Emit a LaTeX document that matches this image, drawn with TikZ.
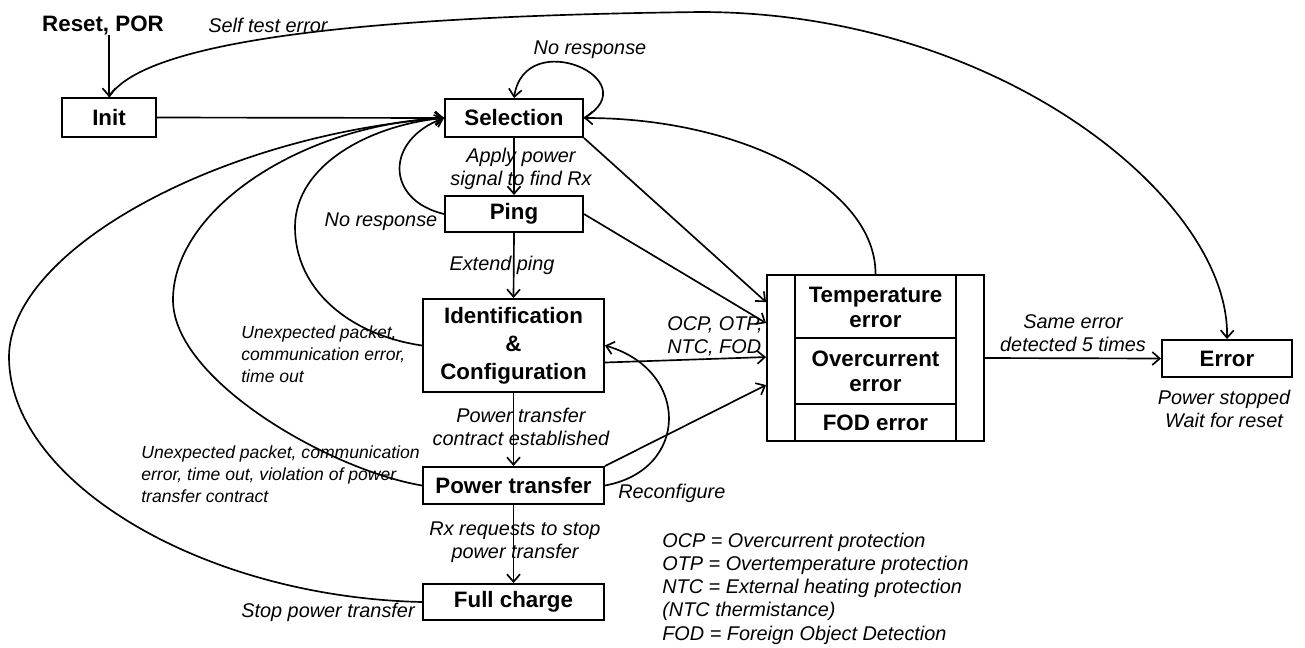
\documentclass[tikz,border=0pt]{standalone}
\usepackage{fontspec}
\setmainfont{Liberation Sans}
\usetikzlibrary{arrows.meta,calc}

\tikzset{
  statebox/.style={draw, line width=1.1pt, inner sep=0pt, align=center,
    font=\bfseries\fontsize{12.7}{15.5}\selectfont},
  boldtxt/.style={inner sep=0pt, align=center,
    font=\bfseries\fontsize{12.7}{14.2}\selectfont},
  lbl/.style={inner sep=0pt, align=center,
    font=\itshape\fontsize{11.3}{13.2}\selectfont},
  smalllbl/.style={inner sep=0pt, align=left,
    font=\itshape\fontsize{10}{12.4}\selectfont},
  conn/.style={line width=0.95pt, -{Straight Barb[length=1.5mm,width=2.6mm,line width=0.95pt]}},
  plain/.style={line width=0.95pt},
}

\begin{document}
\begin{tikzpicture}[x=0.02cm, y=-0.02cm]
\useasboundingbox (0,0) rectangle (1305,647);

% states
\node[statebox, minimum width=1.88cm, minimum height=0.78cm] (init) at (109,117.5) {Init};
\node[statebox, minimum width=2.76cm, minimum height=0.76cm] (sel) at (514,118) {Selection};
\node[statebox, minimum width=2.76cm, minimum height=0.72cm] (ping) at (514,214) {Ping};
\node[statebox, minimum width=3.62cm, minimum height=1.86cm,
      font=\bfseries\fontsize{12.7}{15.9}\selectfont] (ident) at (513.5,345.5)
      {Identification\\\&\\Configuration};
\node[statebox, minimum width=3.62cm, minimum height=0.74cm] (pt) at (513.5,485.5) {Power transfer};
\node[statebox, minimum width=3.62cm, minimum height=0.72cm] (fc) at (513.5,602) {Full charge};
\node[statebox, minimum width=2.6cm, minimum height=0.74cm] (err) at (1227,358.5) {Error};

% error stack
\node[draw, line width=1.1pt, minimum width=4.34cm, minimum height=3.32cm, inner sep=0pt] (stack) at (875.5,358) {};
\draw[line width=1.1pt] ($(stack.north west)+(29,0)$) -- ($(stack.south west)+(29,0)$);
\draw[line width=1.1pt] ($(stack.north east)+(-29,0)$) -- ($(stack.south east)+(-29,0)$);
\draw[line width=1.1pt] ($(stack.north west)+(29,64)$) -- ($(stack.north east)+(-29,64)$);
\draw[line width=1.1pt] ($(stack.north west)+(29,130)$) -- ($(stack.north east)+(-29,130)$);
\node[boldtxt] (tempe) at (875.5,307.5) {Temperature\\error};
\node[boldtxt] (overc) at (875.5,371.5) {Overcurrent\\error};
\node[boldtxt] (fode) at (875.5,423) {FOD error};

\coordinate (s1) at ($(stack.north west)+(0,28)$);
\coordinate (s2) at ($(stack.north west)+(0,49)$);
\coordinate (s3) at ($(stack.north west)+(0,83)$);
\coordinate (s4) at ($(stack.north west)+(0,111)$);

% entry
\node[boldtxt] (rst) at (103,25) {Reset, POR};
\draw[conn] (init.north |- rst.south) -- (init.north);

% self test error
\draw[conn] (init.north) .. controls (150,30) and (450,15) .. (700,12)
            .. controls (1000,12) and (1230,200) .. (err.north);
\node[lbl] (lselftest) at (268,25) {Self test error};

% main flow
\draw[conn] (init.east) -- (sel.west);
\draw[conn] (sel.south) -- (ping.north);
\draw[conn] (ping.south) -- (ident.north);
\draw[conn] (ident.south) -- (pt.north);
\draw[conn] (pt.south) -- (fc.north);

% selection self loop
\draw[conn] (sel.east) .. controls (650,80) and (525,25) .. (sel.north);
\node[lbl] (lnoresp1) at (590,50) {No response};

% returns to selection
\draw[conn] (ping.west) .. controls (385,200) and (385,140) .. (sel.west);
\draw[conn] (ident.west) .. controls (350,335) and (295,290) .. (295,227)
            .. controls (295,165) and (370,125) .. (sel.west);
\draw[conn] (pt.west) .. controls (330,470) and (173,380) .. (173,300)
            .. controls (173,210) and (300,125) .. (sel.west);
\draw[conn] (fc.west) .. controls (200,597) and (9,480) .. (9,357)
            .. controls (9,250) and (220,135) .. (sel.west);
\draw[conn] (stack.north) .. controls (876,189) and (744,118) .. (sel.east);

% to error stack
\draw[conn] (sel.south east) -- (s1);
\draw[conn] (ping.east) -- (s2);
\draw[conn] ($(ident.east)+(0,17)$) -- (s3);
\draw[conn] (pt.north east) -- (s4);
\draw[conn] (stack.east) -- (err.west);

% reconfigure
\draw[conn] (pt.east) .. controls (690,470) and (690,370) .. (ident.east);

% labels
\node[lbl] (lapply) at (521,168.5) {Apply power\\signal to find Rx};
\node[lbl] (lnoresp2) at (381,222) {No response};
\node[lbl] (lext) at (502,265) {Extend ping};
\node[smalllbl, anchor=west] (lunexp1) at (241,354) {Unexpected packet,\\communication error,\\time out};
\node[smalllbl, anchor=west] (lunexp2) at (141,474) {Unexpected packet, communication\\error, time out, violation of power\\transfer contract};
\node[lbl] (lcontract) at (521,427) {Power transfer\\contract established};
\node[lbl] (lrx) at (515,542.5) {Rx requests to stop\\power transfer};
\node[lbl, anchor=west] (lreconf) at (618,493) {Reconfigure};
\node[lbl, anchor=east] (lstop) at (415,612) {Stop power transfer};
\node[lbl, anchor=west, align=left] (locp) at (667,336.5) {OCP, OTP,\\NTC, FOD};
\node[lbl] (lsame) at (1073,333) {Same error\\detected 5 times};
\node[lbl] (lpstop) at (1224,409) {Power stopped\\Wait for reset};
\node[lbl, anchor=west, align=left] (legend) at (662,588.5)
  {OCP = Overcurrent protection\\OTP = Overtemperature protection\\NTC = External heating protection\\(NTC thermistance)\\FOD = Foreign Object Detection};
\end{tikzpicture}
\end{document}
